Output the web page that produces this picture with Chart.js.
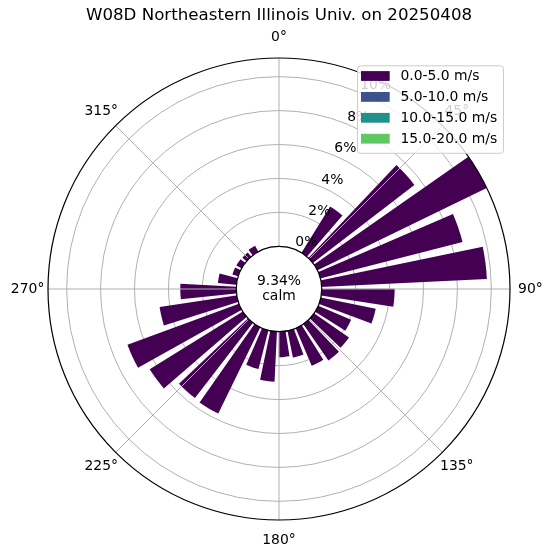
<!DOCTYPE html>
<html><head><meta charset="utf-8">
<script src="https://cdn.jsdelivr.net/npm/chart.js@4.4.1/dist/chart.umd.min.js"></script>
<style>html,body{margin:0;padding:0;background:#fff}#wrap{width:553px;height:558px;position:relative}</style>
</head><body><div id="wrap"><canvas id="c"></canvas></div>
<script>
// ---------------- data ----------------
const titleText = 'W08D Northeastern Illinois Univ. on 20250408';
// direction sector centres (degrees, clockwise from north)
const directions = [0, 11.61, 23.23, 34.84, 46.45, 58.06, 69.68, 81.29,
  92.90, 104.52, 116.13, 127.74, 139.35, 150.97, 162.58, 174.19,
  185.81, 197.42, 209.03, 220.65, 232.26, 243.87, 255.48, 267.10,
  278.71, 290.32, 301.94, 313.55, 325.16, 336.77, 348.39, 360.00];
const speedBins = ['0.0-5.0 m/s', '5.0-10.0 m/s', '10.0-15.0 m/s', '15.0-20.0 m/s'];
// frequency (%) per sector for each speed bin
const speed0to5 = [0, 0, 0, 3.2, 7.55, 11.1, 8.65, 9.75,
  4.3, 3.3, 2.1, 2.5, 2.6, 2.4, 1.6, 1.5,
  2.95, 2.35, 5.65, 5.6, 6.45, 7.0, 4.6, 3.3,
  1.1, 0.36, 0.35, 0.32, 0.4, 0, 0, 0];
const speed5to10 = [0, 0, 0, 0, 0, 0, 0, 0, 0, 0, 0, 0, 0, 0, 0, 0,
  0, 0, 0, 0, 0, 0, 0, 0, 0, 0, 0, 0, 0, 0, 0, 0];
const speed10to15 = [0, 0, 0, 0, 0, 0, 0, 0, 0, 0, 0, 0, 0, 0, 0, 0,
  0, 0, 0, 0, 0, 0, 0, 0, 0, 0, 0, 0, 0, 0, 0, 0];
const speed15to20 = [0, 0, 0, 0, 0, 0, 0, 0, 0, 0, 0, 0, 0, 0, 0, 0,
  0, 0, 0, 0, 0, 0, 0, 0, 0, 0, 0, 0, 0, 0, 0, 0];
const calmPercent = 9.34;
const radialTicks = [0, 2, 4, 6, 8, 10];
const radialTickLabels = ['0%', '2%', '4%', '6%', '8%', '10%'];
const compassTicks = [0, 45, 90, 135, 180, 225, 270, 315];
const compassLabels = ['0°', '45°', '90°', '135°', '180°', '225°', '270°', '315°'];

// ---------------- styles / layout ----------------
const binColors = ['#440154', '#3b528b', '#21918c', '#5ec962'];
const FONT = 'DejaVu Sans';
const barWidthDeg = 9;          // angular width of each bar
const angularShift = 1.5;       // visual shift of bars
const calmOffset = 2.518;       // radial room (in % units) of the calm circle
const gridColor = '#b0b0b0';

// ---------------- build ----------------
const series = [speed0to5, speed5to10, speed10to15, speed15to20];
const sectorStep = directions[1] - directions[0];
const gapDeg = sectorStep - barWidthDeg;
const cumulative = series.map((_, i) => directions.map((d, k) => {
  let s = 0; for (let j = 0; j <= i; j++) s += series[j][k]; return s;
}));
const totals = cumulative[cumulative.length - 1];
const labels = [];
directions.forEach(d => { labels.push(d + '°'); labels.push(''); });

const datasets = speedBins.map((name, i) => {
  const data = [];
  cumulative[i].forEach(v => { data.push(v); data.push(0); });
  return {
    label: name,
    data,
    angle: ctx => (ctx.dataIndex % 2 === 0 ? barWidthDeg : gapDeg),
    backgroundColor: ctx => {
      if (ctx.dataIndex % 2 === 1) return 'rgba(0,0,0,0)';
      const k = ctx.dataIndex / 2;
      return series[i][k] > 0 ? binColors[i] : 'rgba(0,0,0,0)';
    },
    borderWidth: 0
  };
});

const overlay = {
  id: 'roseOverlay',
  afterDraw(chart) {
    const ctx = chart.ctx;
    const s = chart.scales.r;
    const cx = s.xCenter, cy = s.yCenter, R = s.drawingArea;
    const rc = s.getDistanceFromCenterForValue(0);
    ctx.save();
    // spokes
    ctx.strokeStyle = gridColor; ctx.lineWidth = 1;
    compassTicks.forEach(d => {
      const a = (d - 90) * Math.PI / 180;
      ctx.beginPath(); ctx.moveTo(cx, cy);
      ctx.lineTo(cx + R * Math.cos(a), cy + R * Math.sin(a)); ctx.stroke();
    });
    // outer frame
    ctx.strokeStyle = '#000'; ctx.lineWidth = 1.2;
    ctx.beginPath(); ctx.arc(cx, cy, R, 0, Math.PI * 2); ctx.stroke();
    // calm circle
    ctx.fillStyle = '#fff';
    ctx.beginPath(); ctx.arc(cx, cy, rc, 0, Math.PI * 2); ctx.fill();
    ctx.strokeStyle = '#000'; ctx.lineWidth = 1.2; ctx.stroke();
    ctx.fillStyle = '#000';
    ctx.font = '13.9px "' + FONT + '"';
    ctx.textAlign = 'center'; ctx.textBaseline = 'alphabetic';
    ctx.fillText(calmPercent.toFixed(2) + '%', cx, cy - 4.3);
    ctx.fillText('calm', cx, cy + 10.7);
    // radial tick labels at 22.5°
    const la = (22.5 - 90) * Math.PI / 180;
    ctx.textAlign = 'left'; ctx.textBaseline = 'bottom';
    radialTicks.forEach((v, i) => {
      const r = s.getDistanceFromCenterForValue(v);
      ctx.fillText(radialTickLabels[i], cx + r * Math.cos(la), cy + r * Math.sin(la));
    });
    // compass labels
    ctx.textAlign = 'center'; ctx.textBaseline = 'middle';
    compassTicks.forEach((d, i) => {
      const a = (d - 90) * Math.PI / 180;
      const r = R + 20.4;
      ctx.fillText(compassLabels[i], cx + r * Math.cos(a), cy + r * Math.sin(a));
    });
    // legend (upper right of axes box)
    const lw = 146, lh = 87.5;
    const lx = cx + R - 7 - lw, ly = cy - R + 7.3;
    ctx.beginPath();
    ctx.roundRect(lx + 0.5, ly + 0.5, lw, lh, 3);
    ctx.fillStyle = 'rgba(255,255,255,0.8)'; ctx.fill();
    ctx.strokeStyle = '#cccccc'; ctx.lineWidth = 1; ctx.stroke();
    ctx.textAlign = 'left'; ctx.textBaseline = 'middle';
    speedBins.forEach((name, i) => {
      const yc = ly + 10.7 + i * 20.9;
      ctx.fillStyle = binColors[i];
      ctx.fillRect(lx + 4, yc - 4.9, 28.7, 9.8);
      ctx.fillStyle = '#000';
      ctx.fillText(name, lx + 43.4, yc + 0.5);
    });
    ctx.restore();
  }
};

new Chart(document.getElementById('c'), {
  type: 'polarArea',
  data: { labels, datasets },
  options: {
    responsive: true,
    maintainAspectRatio: false,
    animation: false,
    font: { family: FONT },
    layout: { padding: { left: 47, right: 42, top: 0, bottom: 37 } },
    plugins: {
      legend: { display: false },
      tooltip: { enabled: false },
      title: {
        display: true, text: titleText, color: '#000',
        font: { family: FONT, size: 16.67, weight: 'normal', lineHeight: 1.2 },
        padding: { top: 6, bottom: 31 }
      }
    },
    scales: {
      r: {
        type: 'radialLinear',
        min: -calmOffset,
        max: Math.max(...totals),
        startAngle: directions[0] - barWidthDeg / 2 + angularShift,
        z: 1,
        grid: { color: gridColor, lineWidth: 1, circular: true },
        angleLines: { display: false },
        pointLabels: { display: false },
        ticks: { display: false },
        afterBuildTicks: sc => { sc.ticks = radialTicks.map(v => ({ value: v })); }
      }
    }
  },
  plugins: [overlay]
});
</script>
</body></html>
